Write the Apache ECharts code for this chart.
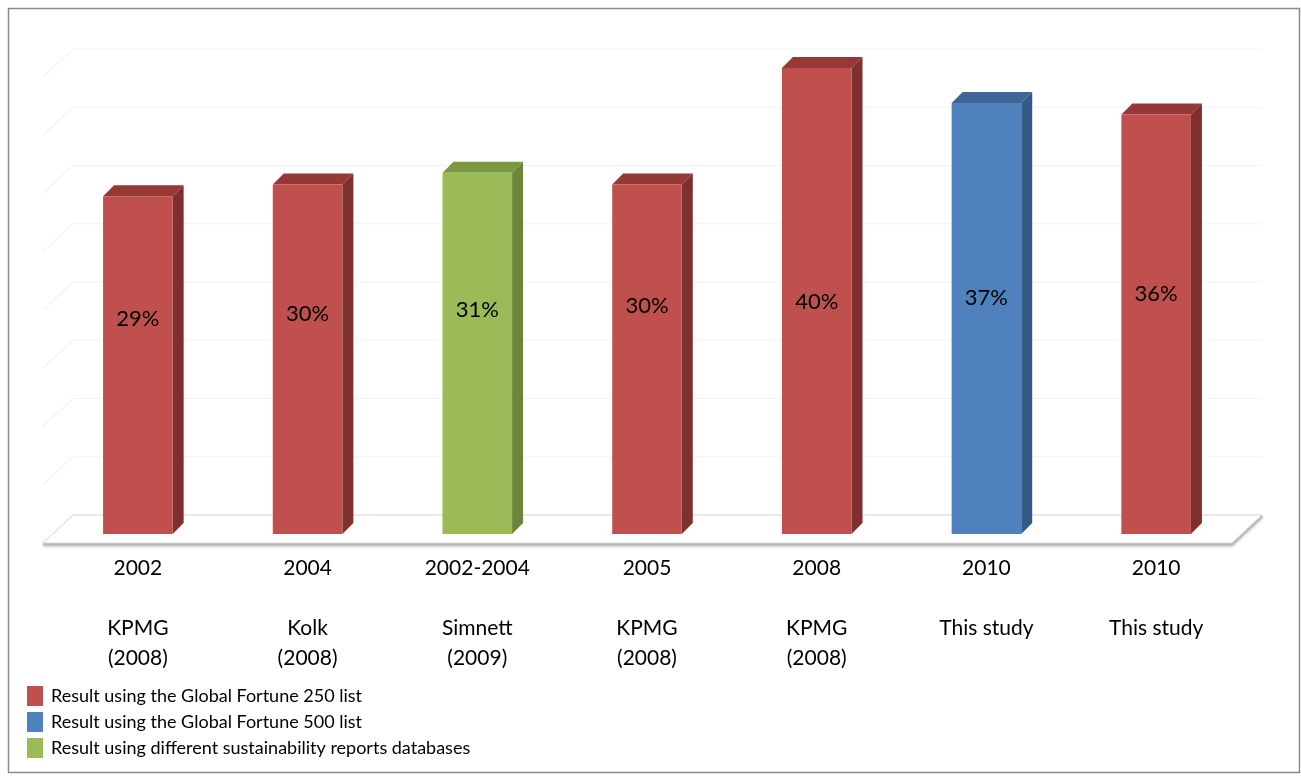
<!DOCTYPE html>
<html>
<head>
<meta charset="utf-8">
<style>
  html, body { margin: 0; padding: 0; background: #ffffff; }
  #chart { width: 1301px; height: 776px; }
</style>
<script src="https://cdn.jsdelivr.net/npm/echarts@6/dist/echarts.min.js"></script>
</head>
<body>
<div id="chart"></div>
<script>
// Share of companies reporting on sustainability, by study
const CATEGORY_YEARS = ['2002', '2004', '2002-2004', '2005', '2008', '2010', '2010'];
const CATEGORY_SOURCES = ['KPMG\n(2008)', 'Kolk\n(2008)', 'Simnett\n(2009)', 'KPMG\n(2008)', 'KPMG\n(2008)', 'This study', 'This study'];
const SHARE_VALUES = [29, 30, 31, 30, 40, 37, 36];
// which population each result is based on (index into LIST_NAMES)
const BAR_LIST = [0, 0, 2, 0, 0, 1, 0];
const LIST_NAMES = [
  'Result using the Global Fortune 250 list',
  'Result using the Global Fortune 500 list',
  'Result using different sustainability reports databases'
];
const Y_MIN = 0, Y_MAX = 40, Y_STEP = 5;

// face colours: front, side, top
const LIST_COLORS = [
  { front: '#C0504D', side: '#7F302E', top: '#953836' },
  { front: '#4F81BD', side: '#365A86', top: '#3D6696' },
  { front: '#9BBB59', side: '#6C853A', top: '#7A9940' }
];

const FONT = 'Lato, "Open Sans", sans-serif';
const BAR_DEPTH = 11;        // oblique depth of each bar
const FLOOR_FRONT = 9;       // floor front edge below the bar baseline
const FLOOR_BACK = 19;       // floor back edge above the bar baseline
const WALL_SHIFT_X = 30;     // horizontal shift from floor front to back
const LABEL_BASE = 18.5;     // height (in axis units) of the value labels
const LABEL_STEP = 0.35;

const chart = echarts.init(document.getElementById('chart'), null, { renderer: 'canvas' });

const categories = CATEGORY_YEARS.map((y, i) => y + '\n\n' + CATEGORY_SOURCES[i]);

// floor plane and faint back/side wall gridlines
function renderFrame(params, api) {
  const cs = params.coordSys;
  const base = api.coord([0, 0])[1];
  const fl = cs.x - 10, fr = cs.x + cs.width - 9;
  const bl = fl + WALL_SHIFT_X, br = fr + WALL_SHIFT_X;
  const yf = base + FLOOR_FRONT, yb = base - FLOOR_BACK;
  const children = [];
  for (let v = Y_MIN + Y_STEP; v <= Y_MAX; v += Y_STEP) {
    const y = api.coord([0, v])[1];
    children.push({
      type: 'polyline',
      shape: { points: [[fl, y + FLOOR_FRONT], [bl, y - FLOOR_BACK], [br, y - FLOOR_BACK]] },
      style: { stroke: '#f3f3f3', lineWidth: 1.2, fill: null }
    });
  }
  // floor slab shadow along the front edge
  children.push({
    type: 'polyline',
    shape: { points: [[fl, yf + 1], [fr, yf + 1], [br, yb + 1]] },
    style: { stroke: '#b8b8b8', lineWidth: 3, fill: null, shadowBlur: 3, shadowColor: 'rgba(0,0,0,0.25)', shadowOffsetY: 1 }
  });
  children.push({
    type: 'polygon',
    shape: { points: [[fl, yf], [fr, yf], [br, yb], [bl, yb]] },
    style: { fill: '#ffffff', stroke: '#d4d4d4', lineWidth: 1 }
  });
  return { type: 'group', children: children };
}

function makeBarRenderer(colors) {
  return function (params, api) {
    const idx = api.value(0);
    const val = api.value(1);
    const band = api.size([1, 0])[0];
    const w = band * 0.41;
    const top = api.coord([idx, val]);
    const bot = api.coord([idx, 0]);
    const xl = top[0] - w / 2, xr = top[0] + w / 2;
    const yt = top[1], yb = bot[1];
    const d = BAR_DEPTH;
    const ly = api.coord([idx, LABEL_BASE + LABEL_STEP * idx])[1];
    return {
      type: 'group',
      children: [
        { type: 'polygon', shape: { points: [[xr, yt], [xr + d, yt - d], [xr + d, yb - d], [xr, yb]] },
          style: { fill: colors.side } },
        { type: 'polygon', shape: { points: [[xl, yt], [xl + d, yt - d], [xr + d, yt - d], [xr, yt]] },
          style: { fill: colors.top } },
        { type: 'rect', shape: { x: xl, y: yt, width: w, height: yb - yt },
          style: { fill: colors.front } },
        { type: 'text', style: { text: val + '%', x: top[0], y: ly, align: 'center', verticalAlign: 'middle',
          fill: '#000000', fontSize: 22, fontFamily: FONT } }
      ]
    };
  };
}

const barSeries = LIST_NAMES.map((name, k) => ({
  type: 'custom',
  name: name,
  z: 3,
  itemStyle: { color: LIST_COLORS[k].front },
  renderItem: makeBarRenderer(LIST_COLORS[k]),
  encode: { x: 0, y: 1 },
  data: SHARE_VALUES.map((v, i) => [i, v]).filter((d, i) => BAR_LIST[i] === k)
}));

chart.setOption({
  backgroundColor: '#ffffff',
  animation: false,
  graphic: [{
    type: 'rect', left: 6, top: 6, shape: { width: 1291, height: 764 },
    style: { fill: null, stroke: '#8a8a8a', lineWidth: 1.5 }, z: 0
  }],
  grid: { left: 53, right: 60, top: 68, bottom: 242 },
  legend: {
    orient: 'vertical', left: 27, top: 686, padding: 0,
    itemWidth: 16, itemHeight: 20, itemGap: 6, icon: 'rect',
    selectedMode: false,
    textStyle: { fontSize: 18, color: '#000000', fontFamily: FONT, padding: [0, 0, 0, 3] },
    data: LIST_NAMES
  },
  xAxis: {
    type: 'category', data: categories,
    axisLine: { show: false }, axisTick: { show: false }, splitLine: { show: false },
    axisLabel: { margin: 19, fontSize: 21, lineHeight: 30, color: '#000000', fontFamily: FONT, interval: 0 }
  },
  yAxis: {
    type: 'value', min: Y_MIN, max: Y_MAX, interval: Y_STEP, show: false
  },
  series: [{
    type: 'custom', name: 'frame', z: 1, silent: true,
    renderItem: renderFrame, encode: { x: 0, y: 1 }, data: [[0, 0]]
  }].concat(barSeries)
});
</script>
</body>
</html>
